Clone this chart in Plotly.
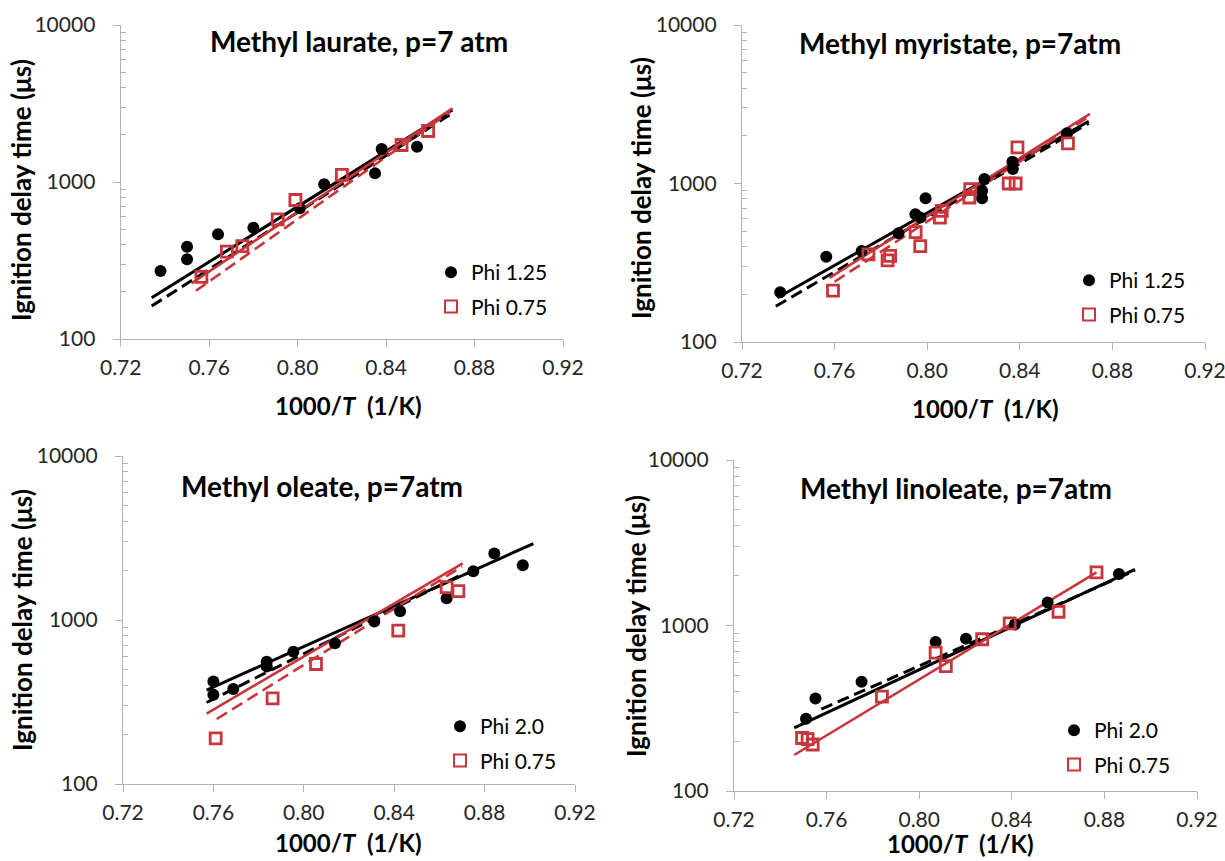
import plotly.graph_objects as go

# ---------------- DATA ----------------
# Panel 1: Methyl laurate, p=7 atm
lau_phi125_x = [0.738, 0.750, 0.750, 0.764, 0.780, 0.801, 0.812, 0.835, 0.838, 0.854]
lau_phi125_y = [271, 387, 322, 464, 512, 680, 967, 1135, 1622, 1679]
lau_phi075_x = [0.7565, 0.768, 0.775, 0.791, 0.799, 0.820, 0.847, 0.859]
lau_phi075_y = [249, 360, 391, 578, 768, 1109, 1721, 2113]
lau_fit_blk_solid_x = [0.734, 0.870]
lau_fit_blk_solid_y = [183, 2880]
lau_fit_blk_dash_x = [0.734, 0.870]
lau_fit_blk_dash_y = [162, 2750]
lau_fit_red_solid_x = [0.752, 0.870]
lau_fit_red_solid_y = [226, 2950]
lau_fit_red_dash_x = [0.754, 0.869]
lau_fit_red_dash_y = [203, 2800]

# Panel 2: Methyl myristate, p=7atm
myr_phi125_x = [0.7365, 0.7564, 0.7717, 0.7876, 0.7949, 0.797, 0.7993, 0.8237, 0.8237, 0.8247, 0.8368, 0.837, 0.8604]
myr_phi125_y = [206, 345, 375, 485, 640, 610, 808, 808, 899, 1066, 1372, 1233, 2073]
myr_phi075_x = [0.7593, 0.7746, 0.7829, 0.784, 0.795, 0.797, 0.8055, 0.8063, 0.8182, 0.8186, 0.8352, 0.8382, 0.839, 0.8608]
myr_phi075_y = [211, 357, 327, 349, 494, 403, 610, 672, 816, 921, 1000, 1000, 1690, 1791]
myr_fit_blk_solid_x = [0.7353, 0.8698]
myr_fit_blk_solid_y = [190, 2470]
myr_fit_blk_dash_x = [0.7346, 0.8698]
myr_fit_blk_dash_y = [168, 2400]
myr_fit_red_solid_x = [0.7578, 0.8703]
myr_fit_red_solid_y = [254, 2750]
myr_fit_red_dash_x = [0.760, 0.870]
myr_fit_red_dash_y = [240, 2650]

# Panel 3: Methyl oleate, p=7atm
ole_phi20_x = [0.760, 0.760, 0.7688, 0.7836, 0.7836, 0.7954, 0.8138, 0.8312, 0.8426, 0.8632, 0.875, 0.8843, 0.8969]
ole_phi20_y = [422, 350, 379, 557, 520, 641, 721, 979, 1132, 1359, 1981, 2541, 2155]
ole_phi075_x = [0.761, 0.7862, 0.8054, 0.8418, 0.8632, 0.8684]
ole_phi075_y = [190, 333, 539, 862, 1588, 1500]
ole_fit_blk_solid_x = [0.757, 0.9016]
ole_fit_blk_solid_y = [374, 2926]
ole_fit_blk_dash_x = [0.757, 0.870]
ole_fit_blk_dash_y = [314, 1900]
ole_fit_red_solid_x = [0.757, 0.8703]
ole_fit_red_solid_y = [269, 2217]
ole_fit_red_dash_x = [0.7615, 0.870]
ole_fit_red_dash_y = [249, 2121]

# Panel 4: Methyl linoleate, p=7atm
lin_phi20_x = [0.7511, 0.7552, 0.7751, 0.8071, 0.8202, 0.8413, 0.8555, 0.8863]
lin_phi20_y = [273, 362, 457, 794, 833, 1014, 1375, 2046]
lin_phi075_x = [0.7494, 0.7518, 0.754, 0.7839, 0.8071, 0.8115, 0.8272, 0.8391, 0.8602, 0.8766]
lin_phi075_y = [209, 206, 191, 372, 686, 568, 826, 1030, 1211, 2094]
lin_fit_blk_solid_x = [0.746, 0.8932]
lin_fit_blk_solid_y = [241, 2183]
lin_fit_blk_dash_x = [0.7577, 0.8932]
lin_fit_blk_dash_y = [312, 2150]
lin_fit_red_solid_x = [0.746, 0.8766]
lin_fit_red_solid_y = [165, 2094]

x_tickvals = [0.72, 0.76, 0.80, 0.84, 0.88, 0.92]
x_ticktext = ["0.72", "0.76", "0.80", "0.84", "0.88", "0.92"]
y_tickvals = [100, 1000, 10000]
y_ticktext = ["100", "1000", "10000"]
y_minor_vals = [m * d for d in (100, 1000) for m in range(2, 10)]

titles = ["Methyl laurate, p=7 atm", "Methyl myristate, p=7atm",
          "Methyl oleate, p=7atm", "Methyl linoleate, p=7atm"]
legend_names = [("Phi 1.25", "Phi 0.75"), ("Phi 1.25", "Phi 0.75"),
                ("Phi 2.0", "Phi 0.75"), ("Phi 2.0", "Phi 0.75")]

# ---------------- STYLE / LAYOUT ----------------
W, H = 1225, 861
RED = "#c8363c"
AXC = "#b3b3b3"
FONT = "Lato"

def px(x):
    return x / W

def py(y):
    return 1 - y / H

# pixel boxes of each plot area: (left, right, top, bottom)
boxes = [(120.7, 563, 25, 339), (742, 1205, 25, 342),
         (123, 575, 456, 784), (734, 1197, 460, 791)]

panels = [
    (lau_phi125_x, lau_phi125_y, lau_phi075_x, lau_phi075_y,
     [(lau_fit_blk_solid_x, lau_fit_blk_solid_y, "black", "solid"),
      (lau_fit_blk_dash_x, lau_fit_blk_dash_y, "black", "dash"),
      (lau_fit_red_solid_x, lau_fit_red_solid_y, RED, "solid"),
      (lau_fit_red_dash_x, lau_fit_red_dash_y, RED, "dash")]),
    (myr_phi125_x, myr_phi125_y, myr_phi075_x, myr_phi075_y,
     [(myr_fit_blk_solid_x, myr_fit_blk_solid_y, "black", "solid"),
      (myr_fit_blk_dash_x, myr_fit_blk_dash_y, "black", "dash"),
      (myr_fit_red_solid_x, myr_fit_red_solid_y, RED, "solid"),
      (myr_fit_red_dash_x, myr_fit_red_dash_y, RED, "dash")]),
    (ole_phi20_x, ole_phi20_y, ole_phi075_x, ole_phi075_y,
     [(ole_fit_blk_solid_x, ole_fit_blk_solid_y, "black", "solid"),
      (ole_fit_blk_dash_x, ole_fit_blk_dash_y, "black", "dash"),
      (ole_fit_red_solid_x, ole_fit_red_solid_y, RED, "solid"),
      (ole_fit_red_dash_x, ole_fit_red_dash_y, RED, "dash")]),
    (lin_phi20_x, lin_phi20_y, lin_phi075_x, lin_phi075_y,
     [(lin_fit_blk_solid_x, lin_fit_blk_solid_y, "black", "solid"),
      (lin_fit_blk_dash_x, lin_fit_blk_dash_y, "black", "dash"),
      (lin_fit_red_solid_x, lin_fit_red_solid_y, RED, "solid")]),
]

# legend first-marker pixel positions (marker centre x, first row y)
legend_pos = [(451, 272), (1089, 280), (460, 726), (1074, 730)]
title_pos = [(359, 41), (960, 43), (322, 486), (956, 488)]
xtitle_pos = [(348, 405), (985, 408), (348, 842), (960, 843)]
ytitle_pos = [(21, 190), (641, 188), (22, 620), (636, 626)]

fig = go.Figure()
layout = dict(width=W, height=H,
              margin=dict(l=0, r=0, t=0, b=0, autoexpand=False),
              paper_bgcolor="white", plot_bgcolor="white",
              font=dict(family=FONT, color="#262626", size=21),
              showlegend=True, annotations=[])

for i, (bx, by, rx, ry, fits) in enumerate(panels):
    n = i + 1
    xa = "x" if n == 1 else f"x{n}"
    ya = "y" if n == 1 else f"y{n}"
    leg = "legend" if n == 1 else f"legend{n}"
    for fx, fy, col, dash in fits:
        fig.add_trace(go.Scatter(
            x=fx, y=fy, mode="lines", xaxis=xa, yaxis=ya, showlegend=False,
            line=dict(color=col, width=3 if col == "black" else 2.6,
                      dash="solid" if dash == "solid" else "12px,6px"),
            hoverinfo="skip"))
    fig.add_trace(go.Scatter(
        x=bx, y=by, mode="markers", xaxis=xa, yaxis=ya, name=legend_names[i][0],
        legend=leg, legendgroup=f"a{n}",
        marker=dict(symbol="circle", size=12, color="black")))
    fig.add_trace(go.Scatter(
        x=rx, y=ry, mode="markers", xaxis=xa, yaxis=ya, name=legend_names[i][1],
        legend=leg, legendgroup=f"b{n}",
        marker=dict(symbol="square-open", size=11, color=RED,
                    line=dict(width=2.8, color=RED))))

    l, r, t, b = boxes[i]
    xkey = "xaxis" if n == 1 else f"xaxis{n}"
    ykey = "yaxis" if n == 1 else f"yaxis{n}"
    layout[xkey] = dict(
        domain=[px(l), px(r)], anchor=ya, range=[0.72, 0.92],
        tickvals=x_tickvals, ticktext=x_ticktext, ticks="outside", ticklen=7,
        tickcolor=AXC, tickwidth=1.3, showline=True, linecolor=AXC, linewidth=1.3,
        showgrid=False, zeroline=False, tickfont=dict(size=21, color="#262626"),
        ticklabelstandoff=3, ticklabeloverflow="allow")
    layout[ykey] = dict(
        domain=[py(b), py(t)], anchor=xa, type="log", range=[2, 4],
        tickvals=y_tickvals, ticktext=y_ticktext, ticks="outside", ticklen=7,
        tickcolor=AXC, tickwidth=1.3, showline=True, linecolor=AXC, linewidth=1.3,
        showgrid=False, zeroline=False, tickfont=dict(size=21, color="#262626"),
        ticklabelstandoff=13, ticklabeloverflow="allow",
        minor=dict(tickvals=y_minor_vals, ticks="inside", ticklen=5,
                   tickcolor=AXC, tickwidth=1.1, showgrid=False))
    mx, my = legend_pos[i]
    layout[leg] = dict(x=px(mx - 20), y=py(my - 20), xanchor="left", yanchor="top",
                       bgcolor="rgba(0,0,0,0)", font=dict(size=21, color="black"),
                       tracegroupgap=4, itemsizing="constant")
    tx, ty = title_pos[i]
    layout["annotations"].append(dict(
        text=f"<b>{titles[i]}</b>", x=px(tx), y=py(ty), xref="paper", yref="paper",
        showarrow=False, xanchor="center", yanchor="middle",
        font=dict(size=28, color="black", family=FONT)))
    tx, ty = xtitle_pos[i]
    layout["annotations"].append(dict(
        text="<b>1000/<i>T</i>  (1/K)</b>", x=px(tx), y=py(ty), xref="paper",
        yref="paper", showarrow=False, xanchor="center", yanchor="middle",
        font=dict(size=24, color="black", family=FONT)))
    tx, ty = ytitle_pos[i]
    layout["annotations"].append(dict(
        text="<b>Ignition delay time (μs)</b>", x=px(tx), y=py(ty), xref="paper",
        yref="paper", showarrow=False, xanchor="center", yanchor="middle",
        textangle=-90, font=dict(size=26, color="black", family=FONT)))

fig.update_layout(**layout)
fig.write_html("out.html")
